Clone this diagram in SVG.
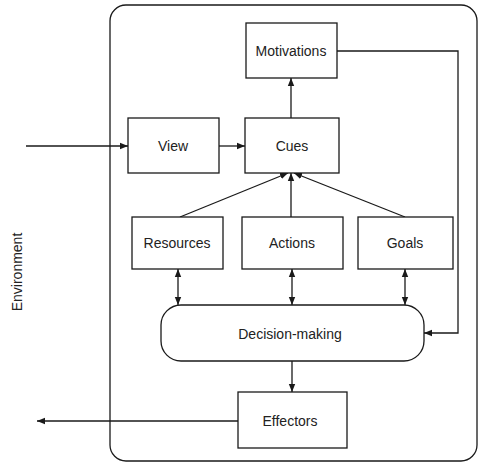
<svg xmlns="http://www.w3.org/2000/svg" width="478" height="462" viewBox="0 0 478 462">
<style>
.box{fill:#fff;stroke:#1a1a1a;stroke-width:1.3}
.ln{fill:none;stroke:#1a1a1a;stroke-width:1.3}
.t{font-family:"Liberation Sans",Arial,sans-serif;font-size:14px;fill:#222;text-anchor:middle;dominant-baseline:central}
</style>
<defs>
<marker id="ah" viewBox="0 0 10 10" refX="10" refY="5" markerWidth="8" markerHeight="8" markerUnits="userSpaceOnUse" orient="auto-start-reverse">
<path d="M0,1 L10,5 L0,9 Z" fill="#1a1a1a"/>
</marker>
</defs>
<rect x="0" y="0" width="478" height="462" fill="#fff"/>
<g id="container"><rect class="ln" x="110" y="5" width="367" height="456" rx="16"/></g>
<text class="t" transform="translate(17,272) rotate(-90)">Environment</text>
<g id="connectors">
<line class="ln" x1="26" y1="146" x2="128" y2="146" marker-end="url(#ah)"/>
<line class="ln" x1="219" y1="146" x2="245" y2="146" marker-end="url(#ah)"/>
<line class="ln" x1="291" y1="118" x2="291" y2="78" marker-end="url(#ah)"/>
<polyline class="ln" points="337,51 458,51 458,333 424,333" marker-end="url(#ah)"/>
<line class="ln" x1="180" y1="217" x2="288" y2="173" marker-end="url(#ah)"/>
<line class="ln" x1="291" y1="217" x2="291" y2="173" marker-end="url(#ah)"/>
<line class="ln" x1="405" y1="217" x2="294" y2="173" marker-end="url(#ah)"/>
<line class="ln" x1="178" y1="269" x2="178" y2="305" marker-start="url(#ah)" marker-end="url(#ah)"/>
<line class="ln" x1="292" y1="269" x2="292" y2="305" marker-start="url(#ah)" marker-end="url(#ah)"/>
<line class="ln" x1="405" y1="269" x2="405" y2="305" marker-start="url(#ah)" marker-end="url(#ah)"/>
<line class="ln" x1="292" y1="361" x2="292" y2="392" marker-end="url(#ah)"/>
<line class="ln" x1="238" y1="421" x2="37" y2="421" marker-end="url(#ah)"/>
</g>
<g id="motivations"><rect class="box" x="246" y="23" width="91" height="55"/><text class="t" x="291" y="51">Motivations</text></g>
<g id="view"><rect class="box" x="128" y="118" width="91" height="55"/><text class="t" x="173" y="146">View</text></g>
<g id="cues"><rect class="box" x="245" y="118" width="94" height="55"/><text class="t" x="292" y="146">Cues</text></g>
<g id="resources"><rect class="box" x="132" y="217" width="91" height="52"/><text class="t" x="177" y="243">Resources</text></g>
<g id="actions"><rect class="box" x="242" y="217" width="101" height="52"/><text class="t" x="292" y="243">Actions</text></g>
<g id="goals"><rect class="box" x="358" y="217" width="95" height="52"/><text class="t" x="405" y="243">Goals</text></g>
<g id="decision"><rect class="box" x="161" y="305" width="263" height="56" rx="20"/><text class="t" x="290" y="334">Decision-making</text></g>
<g id="effectors"><rect class="box" x="238" y="392" width="109" height="56"/><text class="t" x="290" y="421">Effectors</text></g>
</svg>
